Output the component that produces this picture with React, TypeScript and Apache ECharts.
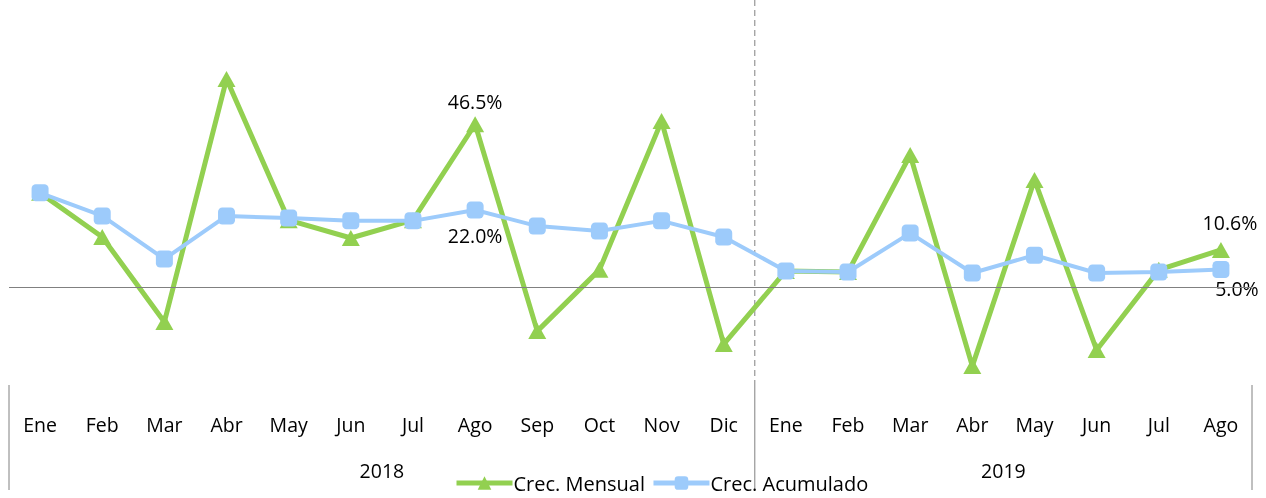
import React, { useEffect, useRef } from "react";
import * as echarts from "echarts";

const months = ["Ene","Feb","Mar","Abr","May","Jun","Jul","Ago","Sep","Oct","Nov","Dic","Ene","Feb","Mar","Abr","May","Jun","Jul","Ago"];
const years = ["2018", "2019"];
const yearSpans = [12, 8];
const crecMensual = [26.9, 14.3, -10.0, 59.4, 19.1, 14.0, 19.1, 46.5, -12.6, 4.9, 47.4, -16.3, 4.6, 4.3, 37.7, -22.6, 30.6, -18.0, 4.9, 10.6];
const crecAcumulado = [26.9, 20.3, 8.0, 20.3, 19.7, 18.9, 18.9, 22.0, 17.4, 16.0, 18.9, 14.3, 4.6, 4.3, 15.4, 4.0, 9.1, 4.0, 4.3, 5.0];

const FONT = "'Open Sans', 'Noto Sans', sans-serif";
const GREEN = "#92D050";
const BLUE = "#9DCBFB";
const FS = 19.5;

export default function App() {
  const ref = useRef<HTMLDivElement>(null);
  useEffect(() => {
    document.body.style.margin = "0";
    const chart = echarts.init(ref.current!, null, { renderer: "svg" });
    const lbl = (pos: string, offset: number[]) => ({
      show: true,
      position: pos,
      offset,
      fontSize: FS,
      fontFamily: FONT,
      color: "#000",
      formatter: (p: any) => p.value.toFixed(1) + "%",
    });
    const mData = crecMensual.map((v, i) => {
      if (i === 7) return { value: v, label: lbl("top", [0, 0]) };
      if (i === 19) return { value: v, label: lbl("top", [9, -4]) };
      return v;
    });
    const aData = crecAcumulado.map((v, i) => {
      if (i === 7) return { value: v, label: lbl("bottom", [0, 2]) };
      if (i === 19) return { value: v, label: lbl("bottom", [16, -5]) };
      return v;
    });
    chart.setOption({
      animation: false,
      grid: { left: 9, right: 14, top: 0, bottom: 113 },
      legend: {
        top: 472,
        left: 454,
        padding: 0,
        itemWidth: 56,
        itemHeight: 17,
        itemGap: 6,
        lineStyle: { width: 5 },
        textStyle: { fontSize: 20, fontFamily: FONT, color: "#000", padding: [0, 0, 0, -4], lineHeight: 22 },
        data: ["Crec. Mensual", "Crec. Acumulado"],
      },
      xAxis: {
        type: "category",
        data: months,
        boundaryGap: true,
        axisLine: { show: false },
        axisTick: { show: false },
        axisLabel: { interval: 0, margin: 29, fontSize: FS, fontFamily: FONT, color: "#000" },
      },
      yAxis: {
        type: "value",
        min: -28,
        max: 82,
        show: false,
        splitLine: { show: false },
      },
      series: [
        {
          name: "Crec. Mensual",
          type: "line",
          data: mData,
          symbol: "triangle",
          symbolSize: [18, 16],
          lineStyle: { color: GREEN, width: 5 },
          itemStyle: { color: GREEN },
          z: 2,
          markLine: {
            silent: true,
            symbol: "none",
            label: { show: false },
            lineStyle: { color: "#808080", width: 1, type: "solid" },
            data: [{ yAxis: 0 }],
          },
        },
        {
          name: "Crec. Acumulado",
          type: "line",
          data: aData,
          symbol: "roundRect",
          symbolSize: 17,
          lineStyle: { color: BLUE, width: 4 },
          itemStyle: { color: BLUE },
          z: 3,
        },
      ],
    });

    const x0 = chart.convertToPixel({ xAxisIndex: 0 }, 0) as number;
    const x1 = chart.convertToPixel({ xAxisIndex: 0 }, 1) as number;
    const step = x1 - x0;
    const elements: any[] = [];
    let start = 0;
    const lineY1 = 385;
    const lineY2 = 490;
    const boundaries: number[] = [x0 - step / 2];
    years.forEach((y, k) => {
      const end = start + yearSpans[k];
      const left = x0 + (start - 0.5) * step;
      const right = x0 + (end - 0.5) * step;
      boundaries.push(right);
      elements.push({
        type: "text",
        x: (left + right) / 2,
        y: 470,
        style: { text: y, fontSize: FS, fontFamily: FONT, fill: "#000", align: "center", verticalAlign: "middle" },
      });
      start = end;
    });
    boundaries.forEach((bx, i) => {
      const isMid = i > 0 && i < boundaries.length - 1;
      elements.push({
        type: "line",
        shape: { x1: bx, y1: lineY1, x2: bx, y2: lineY2 },
        style: { stroke: "#808080", lineWidth: 1 },
      });
      if (isMid) {
        elements.push({
          type: "line",
          shape: { x1: bx, y1: 0, x2: bx, y2: lineY1 },
          style: { stroke: "#808080", lineWidth: 1, lineDash: [6, 4] },
        });
      }
    });
    chart.setOption({ graphic: elements });
    return () => chart.dispose();
  }, []);
  return <div ref={ref} style={{ position: "fixed", left: 0, top: 0, width: 1266, height: 498 }} />;
}
